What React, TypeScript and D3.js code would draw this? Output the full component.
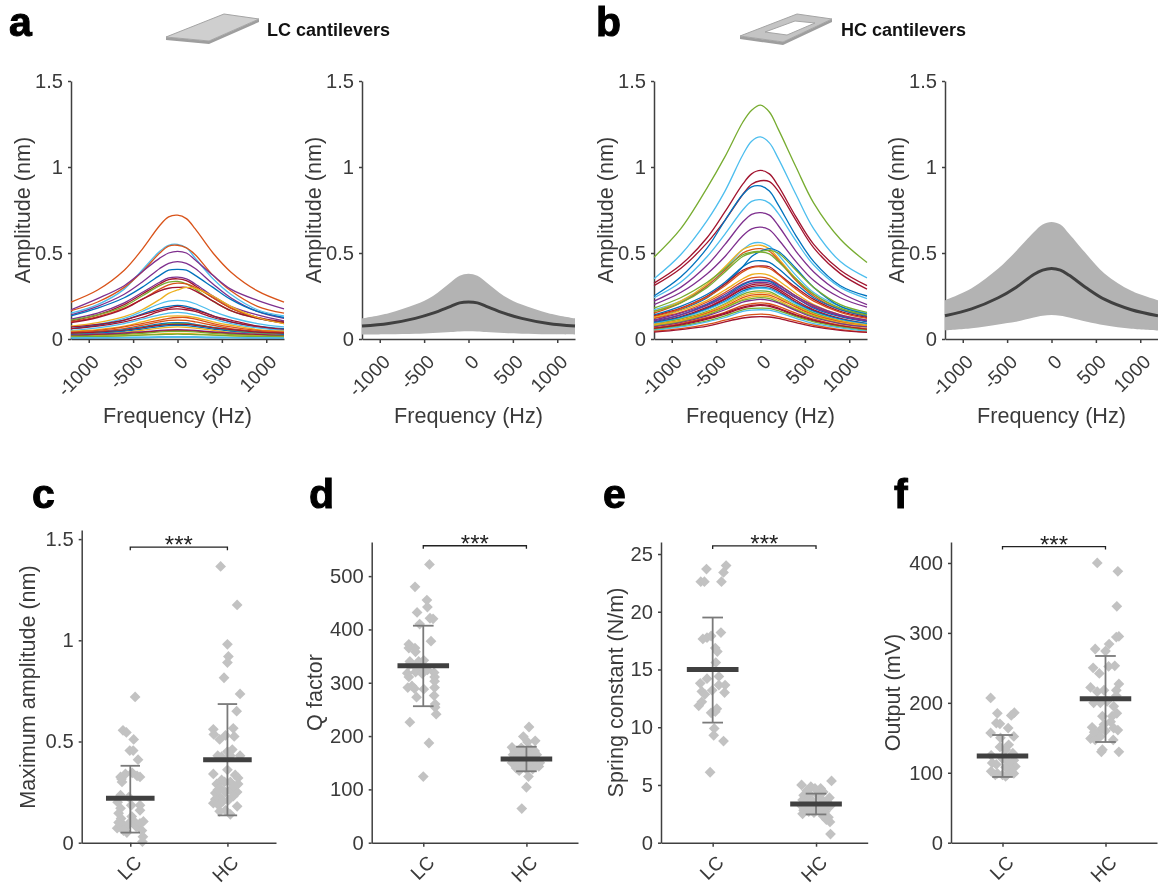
import React, { useEffect, useRef } from "react";
import * as d3 from "d3";

const FONT = "'Liberation Sans', Arial, Helvetica, sans-serif";
const INK = "#404040";

// MATLAB line colours
const lineColors: Record<string, string> = {
    B: "#0072BD",
    O: "#D95319",
    Y: "#EDB120",
    P: "#7E2F8E",
    G: "#77AC30",
    C: "#4DBEEE",
    R: "#A2142F",
};

const freqNodes = [-1200, -900, -600, -400, -200, -100, 0, 100, 200, 400, 600, 900, 1200];
const freqTicks = [-1000, -500, 0, 500, 1000];
const ampTicks = [0, 0.5, 1, 1.5];

const colorsLC = "OCOPPBPRGORYCBRRCYOOBGRBYPRGCBYGC".split("");
const curvesLC = [
    [0.215, 0.285, 0.4, 0.52, 0.66, 0.71, 0.72, 0.7, 0.64, 0.5, 0.39, 0.28, 0.215],
    [0.15, 0.2, 0.29, 0.4, 0.51, 0.545, 0.55, 0.53, 0.47, 0.35, 0.26, 0.17, 0.135],
    [0.165, 0.215, 0.3, 0.39, 0.5, 0.54, 0.545, 0.53, 0.49, 0.37, 0.28, 0.19, 0.15],
    [0.17, 0.235, 0.31, 0.39, 0.47, 0.5, 0.51, 0.5, 0.46, 0.37, 0.29, 0.225, 0.175],
    [0.14, 0.19, 0.26, 0.33, 0.41, 0.44, 0.45, 0.44, 0.41, 0.32, 0.24, 0.16, 0.12],
    [0.135, 0.18, 0.24, 0.3, 0.37, 0.4, 0.405, 0.4, 0.37, 0.3, 0.23, 0.16, 0.125],
    [0.115, 0.15, 0.21, 0.27, 0.33, 0.355, 0.36, 0.35, 0.32, 0.25, 0.19, 0.14, 0.105],
    [0.105, 0.14, 0.2, 0.26, 0.32, 0.345, 0.35, 0.34, 0.31, 0.24, 0.18, 0.125, 0.1],
    [0.11, 0.14, 0.19, 0.25, 0.31, 0.33, 0.335, 0.32, 0.29, 0.22, 0.165, 0.12, 0.095],
    [0.1, 0.13, 0.18, 0.23, 0.29, 0.315, 0.325, 0.32, 0.3, 0.24, 0.18, 0.125, 0.09],
    [0.095, 0.125, 0.175, 0.23, 0.28, 0.295, 0.3, 0.3, 0.28, 0.22, 0.165, 0.12, 0.095],
    [0.075, 0.095, 0.13, 0.17, 0.23, 0.265, 0.285, 0.3, 0.295, 0.25, 0.19, 0.125, 0.09],
    [0.06, 0.085, 0.12, 0.16, 0.205, 0.22, 0.225, 0.22, 0.205, 0.16, 0.125, 0.09, 0.07],
    [0.06, 0.08, 0.11, 0.145, 0.18, 0.19, 0.195, 0.19, 0.175, 0.135, 0.1, 0.075, 0.06],
    [0.07, 0.085, 0.11, 0.14, 0.17, 0.18, 0.19, 0.18, 0.17, 0.135, 0.11, 0.075, 0.055],
    [0.06, 0.075, 0.1, 0.125, 0.16, 0.172, 0.175, 0.17, 0.16, 0.125, 0.1, 0.07, 0.05],
    [0.05, 0.065, 0.09, 0.115, 0.14, 0.15, 0.155, 0.15, 0.14, 0.115, 0.09, 0.065, 0.05],
    [0.045, 0.055, 0.075, 0.1, 0.125, 0.133, 0.135, 0.133, 0.125, 0.1, 0.08, 0.055, 0.045],
    [0.04, 0.05, 0.07, 0.09, 0.11, 0.12, 0.125, 0.125, 0.115, 0.09, 0.07, 0.05, 0.04],
    [0.035, 0.045, 0.06, 0.08, 0.1, 0.108, 0.11, 0.108, 0.1, 0.08, 0.06, 0.045, 0.035],
    [0.03, 0.04, 0.055, 0.07, 0.088, 0.093, 0.095, 0.093, 0.085, 0.068, 0.055, 0.04, 0.03],
    [0.03, 0.038, 0.05, 0.065, 0.082, 0.088, 0.09, 0.088, 0.082, 0.065, 0.05, 0.035, 0.028],
    [0.035, 0.04, 0.05, 0.065, 0.08, 0.083, 0.085, 0.085, 0.08, 0.065, 0.055, 0.04, 0.035],
    [0.025, 0.033, 0.045, 0.058, 0.072, 0.078, 0.08, 0.078, 0.072, 0.058, 0.045, 0.03, 0.025],
    [0.02, 0.028, 0.038, 0.05, 0.063, 0.068, 0.07, 0.068, 0.063, 0.05, 0.038, 0.028, 0.02],
    [0.022, 0.028, 0.035, 0.042, 0.05, 0.053, 0.055, 0.053, 0.05, 0.042, 0.035, 0.027, 0.02],
    [0.018, 0.024, 0.03, 0.038, 0.046, 0.049, 0.05, 0.049, 0.046, 0.038, 0.03, 0.024, 0.018],
    [0.016, 0.02, 0.027, 0.033, 0.041, 0.044, 0.045, 0.044, 0.041, 0.033, 0.027, 0.02, 0.016],
    [0.008, 0.009, 0.01, 0.011, 0.012, 0.012, 0.012, 0.012, 0.012, 0.011, 0.01, 0.009, 0.008],
    [0.006, 0.007, 0.008, 0.008, 0.009, 0.009, 0.009, 0.009, 0.009, 0.008, 0.008, 0.007, 0.006],
    [0.012, 0.016, 0.02, 0.024, 0.03, 0.032, 0.033, 0.032, 0.03, 0.024, 0.02, 0.016, 0.012],
    [0.012, 0.014, 0.018, 0.022, 0.026, 0.027, 0.028, 0.027, 0.026, 0.022, 0.018, 0.014, 0.012],
    [0.007, 0.008, 0.008, 0.009, 0.01, 0.01, 0.01, 0.01, 0.01, 0.009, 0.008, 0.008, 0.007],
];

const colorsHC = "GCRRBCPPCYOBGGBROYOPBPRRBCGYOYGPORRGCOR".split("");
const curvesHC = [
    [0.475, 0.64, 0.88, 1.06, 1.26, 1.33, 1.36, 1.32, 1.22, 1.0, 0.79, 0.58, 0.445],
    [0.35, 0.49, 0.69, 0.86, 1.07, 1.15, 1.175, 1.14, 1.05, 0.84, 0.64, 0.45, 0.355],
    [0.325, 0.43, 0.59, 0.74, 0.9, 0.96, 0.98, 0.96, 0.89, 0.71, 0.55, 0.4, 0.31],
    [0.31, 0.41, 0.56, 0.69, 0.84, 0.9, 0.92, 0.915, 0.86, 0.69, 0.53, 0.38, 0.29],
    [0.25, 0.36, 0.53, 0.69, 0.84, 0.885, 0.89, 0.86, 0.78, 0.6, 0.45, 0.31, 0.25],
    [0.24, 0.33, 0.48, 0.61, 0.75, 0.8, 0.81, 0.79, 0.73, 0.57, 0.43, 0.3, 0.235],
    [0.22, 0.3, 0.43, 0.55, 0.68, 0.725, 0.735, 0.72, 0.66, 0.51, 0.39, 0.27, 0.2],
    [0.2, 0.27, 0.38, 0.48, 0.6, 0.64, 0.65, 0.635, 0.58, 0.45, 0.34, 0.24, 0.185],
    [0.17, 0.22, 0.31, 0.41, 0.52, 0.555, 0.56, 0.54, 0.49, 0.37, 0.27, 0.19, 0.15],
    [0.16, 0.22, 0.32, 0.42, 0.52, 0.54, 0.545, 0.525, 0.47, 0.35, 0.26, 0.175, 0.14],
    [0.15, 0.21, 0.31, 0.4, 0.5, 0.52, 0.525, 0.51, 0.46, 0.34, 0.25, 0.17, 0.135],
    [0.12, 0.17, 0.24, 0.32, 0.42, 0.48, 0.51, 0.525, 0.51, 0.41, 0.3, 0.19, 0.145],
    [0.18, 0.24, 0.33, 0.41, 0.49, 0.505, 0.51, 0.515, 0.5, 0.4, 0.3, 0.2, 0.155],
    [0.16, 0.21, 0.3, 0.39, 0.48, 0.5, 0.505, 0.495, 0.45, 0.35, 0.26, 0.18, 0.14],
    [0.14, 0.19, 0.26, 0.33, 0.42, 0.45, 0.455, 0.445, 0.41, 0.32, 0.24, 0.17, 0.13],
    [0.135, 0.18, 0.25, 0.32, 0.4, 0.42, 0.425, 0.42, 0.38, 0.3, 0.23, 0.16, 0.125],
    [0.13, 0.175, 0.245, 0.31, 0.39, 0.415, 0.42, 0.41, 0.375, 0.29, 0.22, 0.155, 0.12],
    [0.125, 0.165, 0.225, 0.285, 0.35, 0.375, 0.38, 0.37, 0.34, 0.265, 0.2, 0.14, 0.11],
    [0.12, 0.155, 0.215, 0.27, 0.335, 0.355, 0.36, 0.35, 0.32, 0.25, 0.19, 0.135, 0.105],
    [0.11, 0.15, 0.205, 0.26, 0.32, 0.34, 0.345, 0.34, 0.315, 0.25, 0.195, 0.14, 0.11],
    [0.1, 0.14, 0.2, 0.25, 0.315, 0.335, 0.34, 0.335, 0.305, 0.24, 0.18, 0.13, 0.1],
    [0.105, 0.14, 0.195, 0.245, 0.305, 0.325, 0.33, 0.325, 0.3, 0.24, 0.185, 0.135, 0.105],
    [0.095, 0.13, 0.185, 0.235, 0.295, 0.315, 0.32, 0.315, 0.29, 0.225, 0.17, 0.12, 0.09],
    [0.09, 0.125, 0.18, 0.23, 0.29, 0.305, 0.31, 0.305, 0.28, 0.215, 0.165, 0.115, 0.085],
    [0.095, 0.125, 0.175, 0.22, 0.28, 0.295, 0.3, 0.295, 0.27, 0.21, 0.16, 0.115, 0.09],
    [0.09, 0.12, 0.17, 0.215, 0.27, 0.29, 0.295, 0.29, 0.265, 0.205, 0.155, 0.11, 0.085],
    [0.085, 0.115, 0.16, 0.205, 0.26, 0.275, 0.28, 0.275, 0.25, 0.195, 0.15, 0.105, 0.08],
    [0.085, 0.11, 0.155, 0.2, 0.25, 0.265, 0.27, 0.265, 0.245, 0.19, 0.145, 0.105, 0.08],
    [0.08, 0.105, 0.15, 0.19, 0.24, 0.255, 0.26, 0.255, 0.235, 0.185, 0.14, 0.1, 0.075],
    [0.08, 0.105, 0.145, 0.185, 0.23, 0.245, 0.25, 0.245, 0.225, 0.175, 0.135, 0.095, 0.075],
    [0.075, 0.1, 0.14, 0.18, 0.225, 0.235, 0.24, 0.235, 0.215, 0.17, 0.13, 0.09, 0.07],
    [0.07, 0.095, 0.135, 0.17, 0.215, 0.225, 0.23, 0.225, 0.21, 0.165, 0.125, 0.09, 0.07],
    [0.065, 0.09, 0.125, 0.155, 0.195, 0.205, 0.21, 0.205, 0.19, 0.15, 0.115, 0.08, 0.06],
    [0.06, 0.085, 0.12, 0.15, 0.185, 0.195, 0.2, 0.195, 0.18, 0.14, 0.11, 0.075, 0.055],
    [0.06, 0.08, 0.115, 0.145, 0.18, 0.19, 0.195, 0.19, 0.175, 0.135, 0.105, 0.075, 0.055],
    [0.055, 0.075, 0.105, 0.135, 0.17, 0.178, 0.18, 0.178, 0.165, 0.13, 0.1, 0.07, 0.05],
    [0.05, 0.07, 0.1, 0.125, 0.16, 0.168, 0.17, 0.168, 0.155, 0.12, 0.09, 0.065, 0.045],
    [0.045, 0.06, 0.085, 0.11, 0.135, 0.142, 0.145, 0.142, 0.13, 0.105, 0.08, 0.055, 0.04],
    [0.04, 0.055, 0.075, 0.1, 0.122, 0.128, 0.13, 0.128, 0.12, 0.095, 0.072, 0.05, 0.038],
];

// mean +/- sd of the curves
const meanLC = [0.075, 0.09, 0.12, 0.15, 0.19, 0.21, 0.215, 0.21, 0.19, 0.15, 0.12, 0.09, 0.075];
const upperLC = [0.12, 0.15, 0.2, 0.25, 0.33, 0.368, 0.38, 0.368, 0.33, 0.25, 0.2, 0.15, 0.12];
const lowerLC = [0.025, 0.027, 0.03, 0.035, 0.04, 0.043, 0.045, 0.043, 0.04, 0.035, 0.03, 0.027, 0.025];
const meanHC = [0.135, 0.175, 0.24, 0.3, 0.375, 0.4, 0.41, 0.4, 0.37, 0.295, 0.23, 0.17, 0.135];
const upperHC = [0.225, 0.295, 0.41, 0.51, 0.62, 0.665, 0.68, 0.665, 0.61, 0.49, 0.38, 0.28, 0.225];
const lowerHC = [0.05, 0.062, 0.085, 0.1, 0.125, 0.135, 0.14, 0.135, 0.125, 0.1, 0.08, 0.06, 0.05];

const groups = ["LC", "HC"];

// swarm points: [group position, value]
const ampLC = [[1.05, 0.72], [0.925, 0.555], [0.96, 0.545], [1.035, 0.51], [0.995, 0.455], [1.03, 0.455], [1.08, 0.41], [0.9, 0.325], [0.915, 0.3], [0.95, 0.34], [0.91, 0.315], [1.02, 0.345], [1.07, 0.33], [1.1, 0.325], [0.87, 0.2], [0.9, 0.17], [0.985, 0.225], [0.9, 0.235], [1.01, 0.185], [1.1, 0.16], [1.1, 0.185], [0.88, 0.145], [0.905, 0.12], [0.865, 0.072], [0.95, 0.075], [0.915, 0.095], [0.965, 0.05], [1.015, 0.13], [1.06, 0.08], [1.135, 0.105], [1.1, 0.095], [1.12, 0.06], [1.13, 0.03], [1.125, 0.005], [1.03, 0.11], [0.985, 0.095], [0.93, 0.06], [0.88, 0.1]];
const ampHC = [[1.93, 1.365], [2.1, 1.175], [2.0, 0.98], [2.01, 0.92], [2.0, 0.89], [1.965, 0.815], [2.13, 0.735], [2.095, 0.65], [1.855, 0.56], [1.86, 0.535], [2.06, 0.565], [2.07, 0.525], [1.92, 0.51], [1.98, 0.53], [2.05, 0.46], [2.0, 0.45], [1.9, 0.43], [1.94, 0.425], [2.13, 0.43], [2.03, 0.43], [1.855, 0.34], [2.08, 0.335], [2.11, 0.32], [2.0, 0.36], [1.94, 0.31], [1.89, 0.29], [2.03, 0.3], [2.11, 0.29], [1.925, 0.27], [1.875, 0.245], [1.98, 0.25], [2.03, 0.26], [2.1, 0.25], [2.06, 0.23], [1.925, 0.225], [1.875, 0.215], [1.855, 0.195], [1.91, 0.185], [1.955, 0.205], [2.01, 0.21], [2.1, 0.18], [1.92, 0.155], [2.03, 0.14], [1.98, 0.16], [2.07, 0.28], [1.97, 0.3], [1.9, 0.26]];
const qLC = [[1.06, 522], [0.92, 480], [1.035, 455], [1.04, 442], [0.94, 432], [1.065, 421], [1.095, 420], [0.965, 410], [1.075, 378], [0.86, 372], [0.86, 365], [0.92, 365], [0.925, 358], [0.87, 340], [0.955, 340], [1.005, 342], [0.86, 333], [0.92, 330], [0.975, 327], [1.04, 324], [0.925, 320], [0.845, 318], [1.105, 319], [0.86, 311], [0.99, 317], [1.11, 311], [1.11, 303], [0.85, 291], [0.89, 294], [0.915, 289], [1.005, 288], [1.11, 291], [1.105, 276], [0.935, 273], [1.115, 260], [1.115, 254], [1.125, 241], [0.87, 226], [1.055, 187], [1.0, 124]];
const qHC = [[2.025, 217], [1.97, 199], [2.01, 189], [2.085, 191], [1.86, 179], [1.885, 172], [1.95, 178], [1.92, 170], [2.04, 175], [2.08, 172], [1.87, 165], [1.93, 162], [1.98, 168], [2.02, 165], [2.06, 160], [2.1, 165], [1.89, 155], [1.95, 155], [2.0, 158], [2.05, 152], [2.09, 155], [2.13, 150], [1.86, 150], [1.91, 148], [1.97, 148], [2.03, 146], [2.08, 146], [2.12, 143], [1.9, 140], [1.95, 140], [2.0, 138], [2.06, 138], [1.93, 135], [2.02, 124], [2.0, 104], [1.955, 64]];
const springLC = [[1.13, 24.0], [0.94, 23.7], [1.105, 23.4], [0.885, 22.6], [0.92, 22.6], [1.085, 22.6], [1.08, 18.2], [0.985, 17.9], [0.945, 17.75], [0.905, 17.65], [1.025, 16.85], [1.045, 16.55], [1.03, 15.6], [1.06, 14.4], [0.945, 14.2], [0.88, 13.8], [1.06, 13.65], [1.12, 13.65], [0.895, 13.1], [0.995, 13.2], [1.115, 13.0], [0.925, 12.85], [0.895, 12.2], [0.865, 11.85], [1.04, 11.6], [1.025, 11.35], [0.985, 11.25], [1.015, 9.9], [1.01, 9.3], [1.105, 8.8], [0.975, 6.1]];
const springHC = [[2.15, 5.35], [1.86, 5.0], [1.95, 4.85], [2.045, 4.7], [1.99, 4.7], [1.91, 4.5], [2.07, 4.4], [1.88, 4.1], [1.94, 4.2], [2.02, 4.1], [2.13, 3.9], [1.87, 3.7], [1.92, 3.7], [1.97, 3.6], [2.06, 3.7], [2.11, 3.5], [1.86, 3.2], [1.9, 3.1], [1.95, 3.0], [2.0, 3.1], [2.05, 3.0], [2.1, 3.0], [2.14, 3.2], [1.88, 2.8], [1.93, 2.7], [1.98, 2.6], [2.04, 2.7], [2.09, 2.7], [1.87, 2.5], [2.07, 2.3], [2.12, 2.2], [2.135, 1.8], [2.1, 2.0], [2.14, 0.75]];
const outputLC = [[0.885, 207], [0.95, 185], [1.115, 186], [1.085, 182], [0.94, 171], [0.975, 170], [1.055, 164], [0.885, 157], [1.11, 152], [0.98, 150], [1.06, 140], [0.975, 137], [0.89, 125], [1.03, 133], [0.9, 114], [1.11, 118], [1.08, 111], [1.125, 109], [0.95, 99], [0.89, 102], [1.0, 97], [1.045, 97], [1.11, 99], [1.08, 104], [1.03, 95], [0.93, 97], [1.06, 115], [1.0, 120], [0.94, 112], [1.1, 128], [1.03, 108]];
const outputHC = [[1.92, 400], [2.12, 388], [2.11, 338], [2.13, 295], [2.105, 294], [2.035, 284], [1.9, 277], [2.0, 274], [2.09, 253], [2.03, 252], [1.88, 250], [1.94, 242], [2.13, 227], [1.855, 222], [1.985, 218], [1.92, 216], [2.105, 218], [2.105, 210], [1.885, 200], [1.95, 200], [2.015, 202], [2.08, 195], [2.11, 185], [1.97, 181], [2.065, 181], [2.05, 173], [1.985, 169], [1.87, 165], [2.08, 164], [1.95, 161], [2.12, 161], [1.92, 157], [1.855, 149], [1.95, 152], [1.9, 147], [2.075, 147], [1.96, 130], [1.97, 133], [2.13, 130], [1.89, 158], [2.0, 160]];

const styleAxis = (g: any, size: number) => {
    g.attr("color", INK).attr("font-family", FONT).attr("font-size", size);
    g.selectAll("path,line").attr("stroke-width", 1.5);
    g.selectAll("text").attr("fill", "#3a3a3a");
};

const drawAxes = (svg: any, x: any, y: any, xTicks: any[], yTicks: number[], xFormat: any, y0: number, x0: number, labelShift: string) => {
    const bottom = svg.append("g")
        .attr("transform", `translate(0,${y0})`)
        .call(d3.axisBottom(x).tickValues(xTicks).tickSizeInner(4).tickSizeOuter(0).tickFormat(xFormat));
    styleAxis(bottom, 19.2);
    bottom.selectAll("text")
        .attr("x", 0).attr("y", 0).attr("dy", null)
        .attr("text-anchor", "end")
        .attr("transform", `translate(${labelShift}) rotate(-45)`);

    const left = svg.append("g")
        .attr("transform", `translate(${x0},0)`)
        .call(d3.axisLeft(y).tickValues(yTicks).tickSizeInner(3).tickSizeOuter(0).tickPadding(5).tickFormat(String));
    styleAxis(left, 20.2);
};

const axisTitle = (svg: any, text: string, x: number, y: number, rotate = false) => {
    svg.append("text")
        .attr("transform", `translate(${x},${y})${rotate ? " rotate(-90)" : ""}`)
        .attr("text-anchor", "middle")
        .attr("font-family", FONT)
        .attr("font-size", 21.6)
        .attr("fill", "#3a3a3a")
        .text(text);
};

const freqAxes = (svg: any, x0: number, x1: number) => {
    const x = d3.scaleLinear().domain([-1200, 1200]).range([x0, x1]);
    const y = d3.scaleLinear().domain([0, 1.5]).range([339, 81]);
    drawAxes(svg, x, y, freqTicks, ampTicks, String, 339, x0, "11,24");
    axisTitle(svg, "Frequency (Hz)", x(0), 423);
    axisTitle(svg, "Amplitude (nm)", x0 - 41, 210, true);
    return { x, y };
};

const drawCurves = (svg: any, x0: number, x1: number, curves: number[][], colors: string[]) => {
    const { x, y } = freqAxes(svg, x0, x1);
    const line = d3.line<number>()
        .x((_, i) => x(freqNodes[i]))
        .y((d) => y(d))
        .curve(d3.curveCatmullRom);
    svg.append("g")
        .selectAll("path")
        .data(curves)
        .join("path")
        .attr("d", line)
        .attr("fill", "none")
        .attr("stroke", (_: any, i: number) => lineColors[colors[i]])
        .attr("stroke-width", 1.3);
};

const drawBand = (svg: any, x0: number, x1: number, mean: number[], upper: number[], lower: number[]) => {
    const { x, y } = freqAxes(svg, x0, x1);
    const area = d3.area<number>()
        .x((_, i) => x(freqNodes[i]))
        .y0((_, i) => y(lower[i]))
        .y1((_, i) => y(upper[i]))
        .curve(d3.curveCatmullRom);
    svg.append("path").attr("d", area(mean)).attr("fill", "#b3b3b3");
    const line = d3.line<number>()
        .x((_, i) => x(freqNodes[i]))
        .y((d) => y(d))
        .curve(d3.curveCatmullRom);
    svg.append("path").attr("d", line(mean)).attr("fill", "none").attr("stroke", INK).attr("stroke-width", 3);
};

const drawSwarm = (svg: any, cfg: any) => {
    const { x0, x1, yMax, ticks, label, labelX, labelY, bracket, lc, hc, stats } = cfg;
    const x = d3.scaleLinear().domain([0.5, 2.5]).range([x0, x1]);
    const y = d3.scaleLinear().domain([0, yMax]).range([842.7, cfg.top || 542]);

    const diamond = d3.symbol(d3.symbolDiamond2, 74)();
    svg.append("g")
        .selectAll("path")
        .data([...lc, ...hc])
        .join("path")
        .attr("d", diamond)
        .attr("transform", (d: number[]) => `translate(${x(d[0])},${y(d[1])})`)
        .attr("fill", "#c2c2c2");

    stats.forEach((s: number[], i: number) => {
        const g = svg.append("g");
        const cx = i + 1;
        g.append("line").attr("x1", x(cx)).attr("x2", x(cx)).attr("y1", y(s[1])).attr("y2", y(s[2]));
        g.append("line").attr("x1", x(cx - 0.1)).attr("x2", x(cx + 0.1)).attr("y1", y(s[1])).attr("y2", y(s[1]));
        g.append("line").attr("x1", x(cx - 0.1)).attr("x2", x(cx + 0.1)).attr("y1", y(s[2])).attr("y2", y(s[2]));
        g.selectAll("line").attr("stroke", "#7a7a7a").attr("stroke-width", 1.8);
        g.append("line")
            .attr("x1", x(cx - 0.25)).attr("x2", x(cx + 0.25))
            .attr("y1", y(s[0])).attr("y2", y(s[0]))
            .attr("stroke", INK).attr("stroke-width", 5);
    });

    drawAxes(svg, x, y, [1, 2], ticks, (_: any, i: number) => groups[i], 842.7, x0, "12,21");
    axisTitle(svg, label, labelX, labelY, true);

    const by = y(bracket);
    svg.append("path")
        .attr("d", `M${x(1)},${by + 3}V${by}H${x(2)}V${by + 3}`)
        .attr("fill", "none")
        .attr("stroke", "#222")
        .attr("stroke-width", 1.3);
    svg.append("text")
        .attr("x", x(1.5))
        .attr("y", by + 6)
        .attr("text-anchor", "middle")
        .attr("font-family", FONT)
        .attr("font-size", 24)
        .attr("fill", "#222")
        .text("***");
};

const panelLetters = [
    ["a", 9, 36], ["b", 596, 36], ["c", 32, 508], ["d", 309, 508], ["e", 603, 508], ["f", 894, 508],
];

const App = () => {
    const ref = useRef<SVGSVGElement>(null);

    useEffect(() => {
        const svg = d3.select(ref.current);
        svg.selectAll("*").remove();

        drawCurves(svg, 71, 284, curvesLC, colorsLC);
        drawBand(svg, 362, 575, meanLC, upperLC, lowerLC);
        drawCurves(svg, 654, 867, curvesHC, colorsHC);
        drawBand(svg, 945, 1158, meanHC, upperHC, lowerHC);

        drawSwarm(svg, { x0: 81.7, x1: 276, yMax: 1.545, top: 530, ticks: ampTicks, label: "Maximum amplitude (nm)", labelX: 35, labelY: 687, bracket: 1.46, lc: ampLC, hc: ampHC, stats: [[0.22, 0.05, 0.38], [0.41, 0.135, 0.685]] });
        drawSwarm(svg, { x0: 371.7, x1: 578, yMax: 564, ticks: [0, 100, 200, 300, 400, 500], label: "Q factor", labelX: 322, labelY: 692.5, bracket: 557, lc: qLC, hc: qHC, stats: [[332, 256, 407], [157, 134, 180]] });
        drawSwarm(svg, { x0: 661, x1: 867.7, yMax: 26.04, ticks: [0, 5, 10, 15, 20, 25], label: "Spring constant (N/m)", labelX: 623, labelY: 692.5, bracket: 25.7, lc: springLC, hc: springHC, stats: [[15, 10.4, 19.5], [3.35, 2.45, 4.25]] });
        drawSwarm(svg, { x0: 951, x1: 1157, yMax: 430, ticks: [0, 100, 200, 300, 400], label: "Output (mV)", labelX: 900, labelY: 692.5, bracket: 423.5, lc: outputLC, hc: outputHC, stats: [[124, 94, 154], [206, 144, 267]] });

        // panel letters
        svg.append("g")
            .selectAll("text")
            .data(panelLetters)
            .join("text")
            .attr("x", (d: any) => d[1])
            .attr("y", (d: any) => d[2])
            .attr("font-family", FONT)
            .attr("font-weight", "bold")
            .attr("font-size", 41)
            .attr("fill", "#000")
            .attr("stroke", "#000")
            .attr("stroke-width", 1)
            .text((d: any) => d[0]);

        // cantilever sketches and headers
        const header = (text: string, x: number) =>
            svg.append("text")
                .attr("x", x).attr("y", 36)
                .attr("font-family", FONT).attr("font-weight", "bold")
                .attr("font-size", 18).attr("fill", "#111")
                .text(text);
        header("LC cantilevers", 267);
        header("HC cantilevers", 841);

        svg.append("polygon").attr("points", "166,37 166,40 209,44 259,22 259,19 209,41").attr("fill", "#9e9e9e");
        svg.append("polygon").attr("points", "166,37 224,14 259,19 209,41").attr("fill", "#cfcfcf").attr("stroke", "#a5a5a5");
        svg.append("polygon").attr("points", "740,36 740,39 783,45 832,22 832,19 783,42").attr("fill", "#9e9e9e");
        svg.append("polygon").attr("points", "740,36 797,14 832,19 783,42").attr("fill", "#c4c4c4").attr("stroke", "#a5a5a5");
        svg.append("polygon").attr("points", "765,32 795,21 815,23 787,35").attr("fill", "#fff").attr("stroke", "#a5a5a5");
    }, []);

    return (
        <svg
            ref={ref}
            width={1158}
            height={885}
            style={{ position: "absolute", left: 0, top: 0, background: "#fff", filter: "blur(0.45px)" }}
        />
    );
};

export default App;
